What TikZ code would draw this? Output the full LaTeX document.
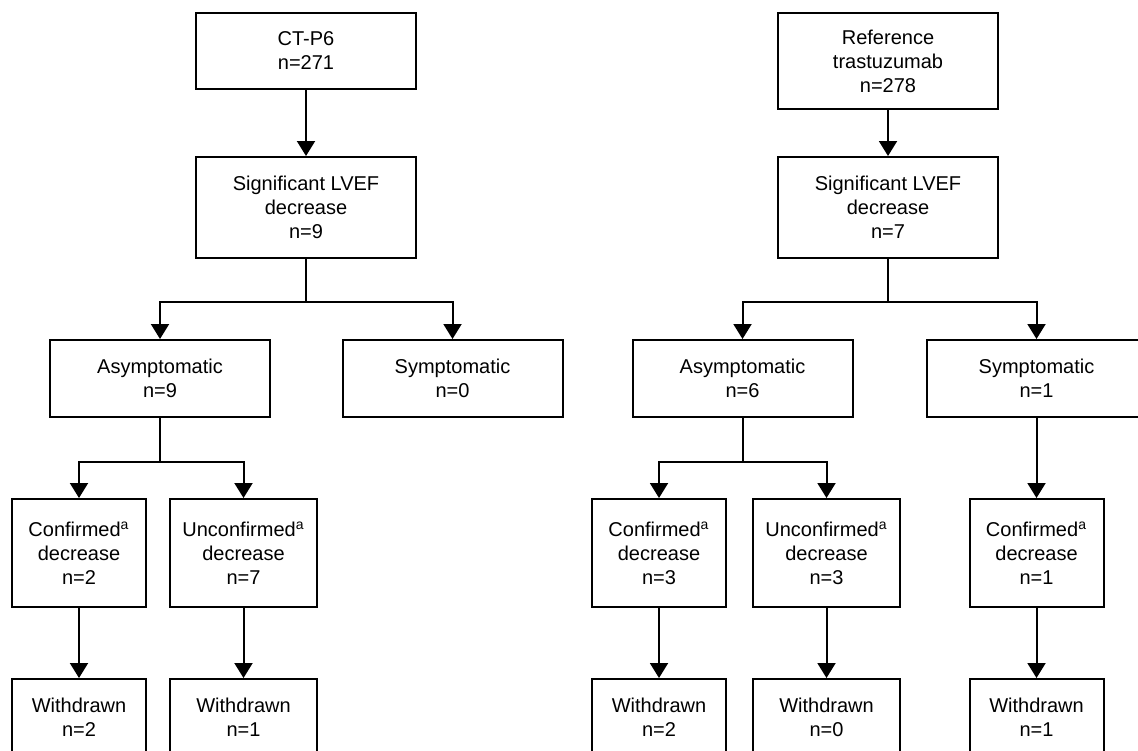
\documentclass[tikz,border=0pt]{standalone}
\usepackage{fontspec}
\setmainfont{Liberation Sans}
\usetikzlibrary{arrows.meta}

\begin{document}
\begin{tikzpicture}[x=0.5pt, y=-0.5pt,
  box/.style={draw, line width=1pt, align=center, inner sep=0pt,
    font=\fontsize{10}{12}\selectfont, minimum width=110pt},
  small/.style={box, minimum width=67pt},
  wide/.style={box, minimum width=73.5pt},
  arr/.style={-{Triangle[width=9pt,length=7.5pt]}, line width=1pt},
  link/.style={line width=1pt}]
  \useasboundingbox (0,0) rectangle (1138,750);
  \clip (0,0) rectangle (1138,750);
  % CT-P6 arm
  \node[box, minimum height=38pt](ct) at (306,51) {CT-P6\\n=271};
  \node[box, minimum height=50.5pt](sig1) at (306,207.5) {Significant LVEF\\decrease\\n=9};
  \node[box, minimum height=38.5pt](asy1) at (160,378.5) {Asymptomatic\\n=9};
  \node[box, minimum height=38.5pt](sym1) at (452.5,378.5) {Symptomatic\\n=0};
  \node[small, minimum height=54pt](con1) at (79,553) {Confirmed\textsuperscript{a}\\decrease\\n=2};
  \node[wide, minimum height=54pt](unc1) at (243.5,553) {Unconfirmed\textsuperscript{a}\\decrease\\n=7};
  \node[small, minimum height=38.5pt](wd1) at (79,717.5) {Withdrawn\\n=2};
  \node[wide, minimum height=38.5pt](wd2) at (243.5,717.5) {Withdrawn\\n=1};
  \coordinate (b1) at (306,302);
  \coordinate (b3) at (160,462);
  \draw[arr] (ct) -- (sig1);
  \draw[link] (sig1) -- (b1);
  \draw[arr] (b1) -| (asy1);
  \draw[arr] (b1) -| (sym1);
  \draw[link] (asy1) -- (b3);
  \draw[arr] (b3) -| (con1);
  \draw[arr] (b3) -| (unc1);
  \draw[arr] (con1) -- (wd1);
  \draw[arr] (unc1) -- (wd2);
  % reference trastuzumab arm
  \node[box, minimum height=48pt](ref) at (888,61) {Reference\\trastuzumab\\n=278};
  \node[box, minimum height=50.5pt](sig2) at (888,207.5) {Significant LVEF\\decrease\\n=7};
  \node[box, minimum height=38.5pt](asy2) at (742.5,378.5) {Asymptomatic\\n=6};
  \node[box, minimum height=38.5pt](sym2) at (1036.5,378.5) {Symptomatic\\n=1};
  \node[small, minimum height=54pt](con2) at (659,553) {Confirmed\textsuperscript{a}\\decrease\\n=3};
  \node[wide, minimum height=54pt](unc2) at (826.5,553) {Unconfirmed\textsuperscript{a}\\decrease\\n=3};
  \node[small, minimum height=54pt](con3) at (1036.5,553) {Confirmed\textsuperscript{a}\\decrease\\n=1};
  \node[small, minimum height=38.5pt](wd3) at (659,717.5) {Withdrawn\\n=2};
  \node[wide, minimum height=38.5pt](wd4) at (826.5,717.5) {Withdrawn\\n=0};
  \node[small, minimum height=38.5pt](wd5) at (1036.5,717.5) {Withdrawn\\n=1};
  \coordinate (b2) at (888,302);
  \coordinate (b4) at (742.5,462);
  \draw[arr] (ref) -- (sig2);
  \draw[link] (sig2) -- (b2);
  \draw[arr] (b2) -| (asy2);
  \draw[arr] (b2) -| (sym2);
  \draw[link] (asy2) -- (b4);
  \draw[arr] (b4) -| (con2);
  \draw[arr] (b4) -| (unc2);
  \draw[arr] (sym2) -- (con3);
  \draw[arr] (con2) -- (wd3);
  \draw[arr] (unc2) -- (wd4);
  \draw[arr] (con3) -- (wd5);
\end{tikzpicture}
\end{document}
